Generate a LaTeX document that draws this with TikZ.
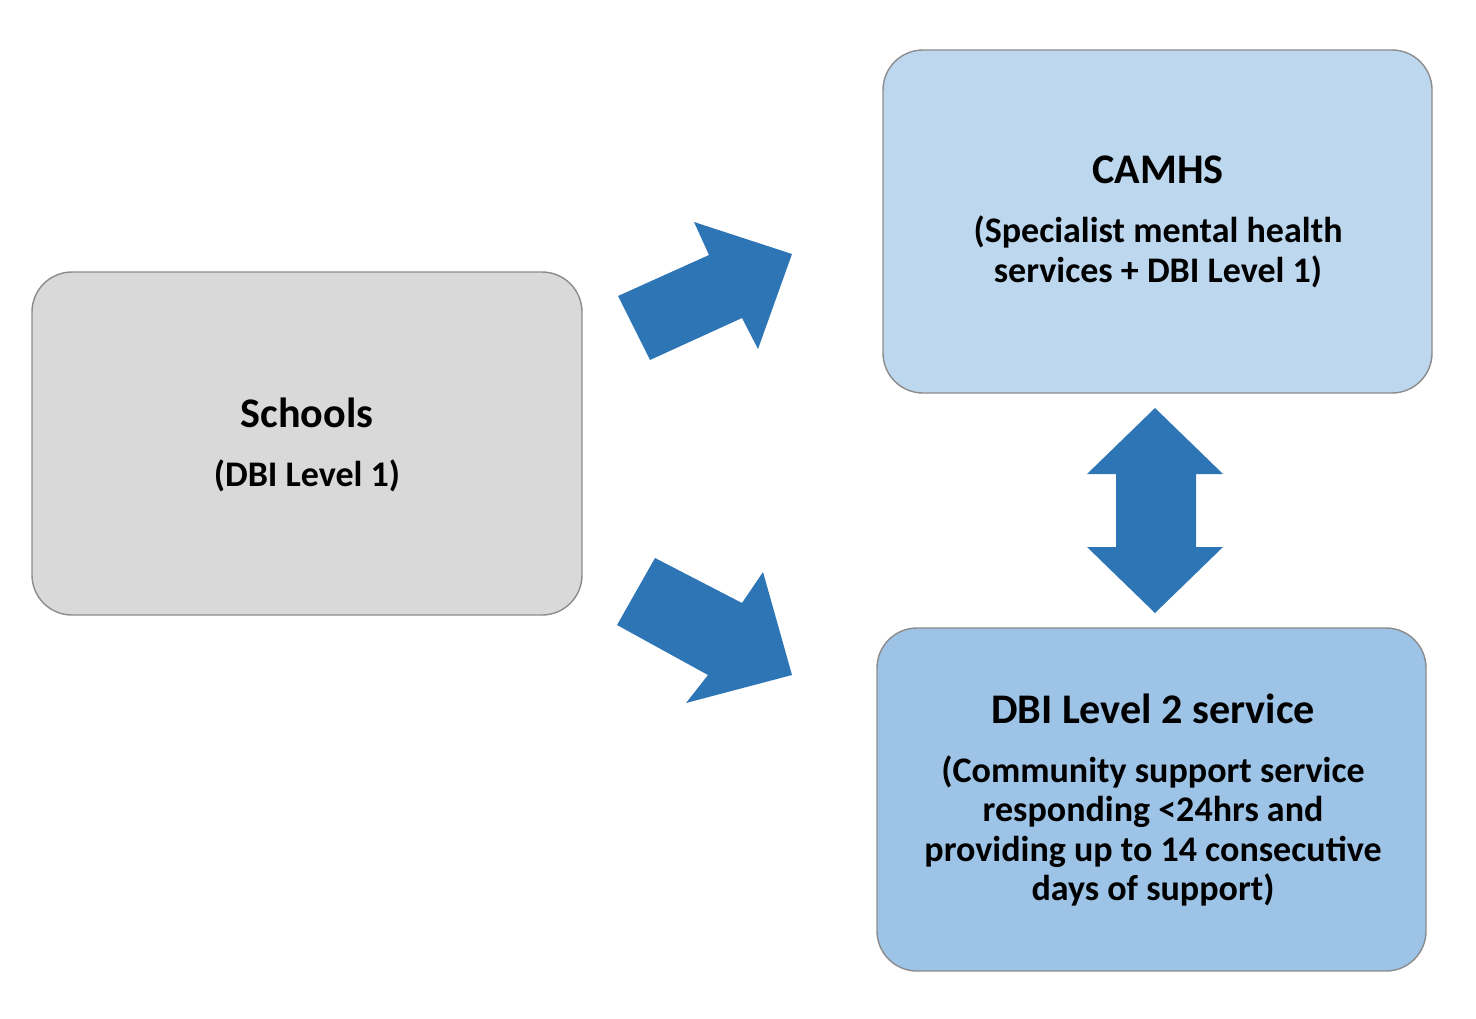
\documentclass[tikz,border=0pt]{standalone}
\usepackage{fontspec}
\setmainfont{Carlito}
\definecolor{grayfill}{HTML}{D9D9D9}
\definecolor{lightblue}{HTML}{BDD7EE}
\definecolor{midblue}{HTML}{9DC3E6}
\definecolor{arrowblue}{HTML}{2E75B6}
\begin{document}
\begin{tikzpicture}[x=0.02cm,y=-0.02cm,
  box/.style={draw=black!45,line width=0.8pt,rounded corners=0.8cm},
  bigarrow/.style={fill=arrowblue,draw=none},
  title/.style={font=\bfseries\fontsize{24}{28}\selectfont},
  sub/.style={font=\bfseries\fontsize{20.5}{22.5}\selectfont,align=center}]
\useasboundingbox (0,0) rectangle (1476,1018);
\draw[box,fill=grayfill] (32,272) rectangle (582,615);
\draw[box,fill=lightblue] (883,50) rectangle (1432,393);
\draw[box,fill=midblue] (877,628) rectangle (1426,971);
\node[title] (schools) at (307,413) {Schools};
\node[sub] (schoolssub) at (307,476) {(DBI Level 1)};
\node[title] (camhs) at (1158,170) {CAMHS};
\node[sub] (camhssub) at (1158,252) {(Specialist mental health\\services + DBI Level 1)};
\node[title] (dbi) at (1153,709) {DBI Level 2 service};
\node[sub] (dbisub) at (1153,831) {(Community support service\\responding <24hrs and\\providing up to 14 consecutive\\days of support)};
\fill[bigarrow] (618,296)--(650,360)--(742,318)--(758,349)--(792,254)--(694,222)--(709,255)--cycle;
\fill[bigarrow] (655,558)--(617,625)--(708,675)--(686,703)--(792,675)--(763,572)--(742,603)--cycle;
\fill[bigarrow] (1155,408)--(1087,474)--(1116,474)--(1116,547)--(1087,547)--(1155,613)--(1223,547)--(1196,547)--(1196,474)--(1223,474)--cycle;
\end{tikzpicture}
\end{document}
